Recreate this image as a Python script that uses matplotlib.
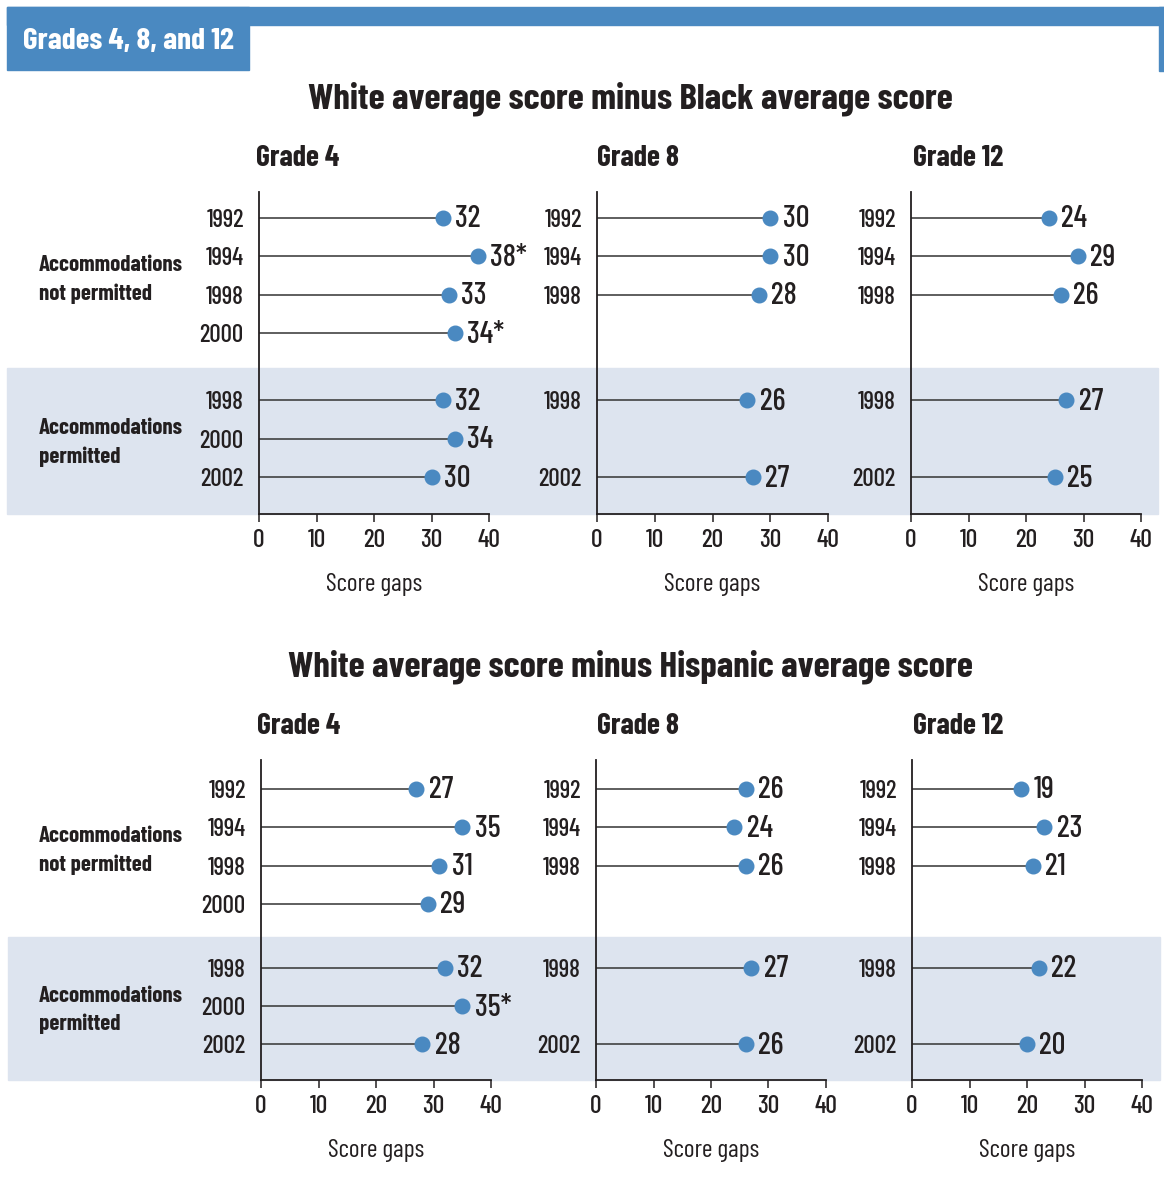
import matplotlib
matplotlib.use("Agg")
import matplotlib.pyplot as plt
from matplotlib.patches import Rectangle

plt.rcParams['font.family'] = ['Barlow Condensed', 'Liberation Sans Narrow', 'DejaVu Sans']
plt.rcParams['font.weight'] = 500

W, H = 1164, 1203
BLUE = "#4a89c1"
BAND = "#dde4ef"
INK = "#231f20"

# data: (years, gaps, significant?) per panel
np_years_g4 = [1992, 1994, 1998, 2000]
np_years_g8 = [1992, 1994, 1998]
p_years_g4 = [1998, 2000, 2002]
p_years_g8 = [1998, 2002]

black_g4_np = [32, 38, 33, 34]
black_g4_np_sig = [False, True, False, True]
black_g4_p = [32, 34, 30]
black_g8_np = [30, 30, 28]
black_g8_p = [26, 27]
black_g12_np = [24, 29, 26]
black_g12_p = [27, 25]

hisp_g4_np = [27, 35, 31, 29]
hisp_g4_p = [32, 35, 28]
hisp_g4_p_sig = [False, True, False]
hisp_g8_np = [26, 24, 26]
hisp_g8_p = [27, 26]
hisp_g12_np = [19, 23, 21]
hisp_g12_p = [22, 20]

grades = ["Grade 4", "Grade 8", "Grade 12"]
xticks = [0, 10, 20, 30, 40]

fig = plt.figure(figsize=(W / 100, H / 100), dpi=100)


def fx(px):
    return px / W


def fy(py):
    return 1 - py / H


def box(x0, y0, x1, y1, color):
    # pixel box (top-left origin) drawn behind everything
    fig.patches.append(Rectangle((fx(x0), fy(y1)), fx(x1 - x0), (y1 - y0) / H,
                                 transform=fig.transFigure, color=color, zorder=-5))


# header
box(7, 7, 1164, 25, BLUE)
box(7, 7, 249, 70, BLUE)
box(1159, 7, 1164, 71, BLUE)
fig.text(fx(23), fy(42), "Grades 4, 8, and 12", color="white", fontsize=22.5,
         fontweight="bold", va="center", ha="left")

slot_np = {1992: 0, 1994: 1, 1998: 2, 2000: 3}
slot_p = {1998: 0, 2000: 1, 2002: 2}


def section(title, title_y, gtitle_y, top, slot0, pitch, p_off, band_top, bottom,
            xspans, band_x, panels):
    fig.text(fx(630), fy(title_y), title, fontsize=26.5, fontweight="bold",
             ha="center", va="center", color=INK)
    box(band_x[0], band_top, band_x[1], bottom, BAND)
    # group labels
    ynp = slot0 + 1.6 * pitch
    yp = slot0 + (p_off + 1.1) * pitch
    fig.text(fx(39), fy(ynp), "Accommodations\nnot permitted", fontsize=16.5,
             fontweight="bold", ha="left", va="center", color=INK, linespacing=1.5)
    fig.text(fx(39), fy(yp), "Accommodations\npermitted", fontsize=16.5,
             fontweight="bold", ha="left", va="center", color=INK, linespacing=1.5)
    for (x0, x1, tx), gname, (npy, npv, nps, py, pv, ps) in zip(xspans, grades, panels):
        ax = fig.add_axes([fx(x0), fy(bottom), fx(x1 - x0), (bottom - top) / H])
        ax.patch.set_alpha(0)
        ys_np = [slot_np[y] for y in npy]
        ys_p = [slot_p[y] + p_off for y in py]
        ys = ys_np + ys_p
        vals = list(npv) + list(pv)
        sig = list(nps) + list(ps)
        for y, v, s in zip(ys, vals, sig):
            ax.plot([0, v], [y, y], color="#333333", lw=1.1, zorder=2, solid_capstyle="butt")
            ax.plot(v, y, "o", ms=10.5, color=BLUE, mec=BLUE, zorder=3)
            ax.annotate(f"{v}*" if s else f"{v}", (v, y), xytext=(9, -1),
                        textcoords="offset points", va="center", ha="left",
                        fontsize=22, color=INK)
        ax.set_xlim(0, 40)
        ax.set_ylim((bottom - slot0) / pitch, (top - slot0) / pitch)
        ax.set_yticks(ys)
        ax.set_yticklabels([str(y) for y in list(npy) + list(py)], fontsize=18, color=INK)
        ax.tick_params(axis="y", length=0, pad=11)
        ax.set_xticks(xticks)
        ax.tick_params(axis="x", direction="out", length=6, width=1.1, labelsize=18.5,
                       pad=5, colors=INK)
        ax.set_xlabel("Score gaps", fontsize=18.5, color=INK, labelpad=15)
        for sp in ["top", "right"]:
            ax.spines[sp].set_visible(False)
        for sp in ["left", "bottom"]:
            ax.spines[sp].set_linewidth(1.3)
            ax.spines[sp].set_color(INK)
        fig.text(fx(tx), fy(gtitle_y), gname, fontsize=21.5, fontweight="bold",
                 ha="left", va="center", color=INK)


section("White average score minus Black average score", 99, 159,
        top=192, slot0=218, pitch=38.4, p_off=4.75, band_top=368, bottom=514,
        xspans=[(259, 489, 256), (597, 828, 597), (911, 1141, 913)], band_x=(7, 1158),
        panels=[
            (np_years_g4, black_g4_np, black_g4_np_sig, p_years_g4, black_g4_p, [False] * 3),
            (np_years_g8, black_g8_np, [False] * 3, p_years_g8, black_g8_p, [False] * 2),
            (np_years_g8, black_g12_np, [False] * 3, p_years_g8, black_g12_p, [False] * 2),
        ])

section("White average score minus Hispanic average score", 667, 727,
        top=760, slot0=789, pitch=38.3, p_off=4.67, band_top=937, bottom=1080,
        xspans=[(261, 491, 257), (596, 826, 597), (912, 1142, 913)], band_x=(8, 1160),
        panels=[
            (np_years_g4, hisp_g4_np, [False] * 4, p_years_g4, hisp_g4_p, hisp_g4_p_sig),
            (np_years_g8, hisp_g8_np, [False] * 3, p_years_g8, hisp_g8_p, [False] * 2),
            (np_years_g8, hisp_g12_np, [False] * 3, p_years_g8, hisp_g12_p, [False] * 2),
        ])

fig.savefig("out.png", dpi=100)
